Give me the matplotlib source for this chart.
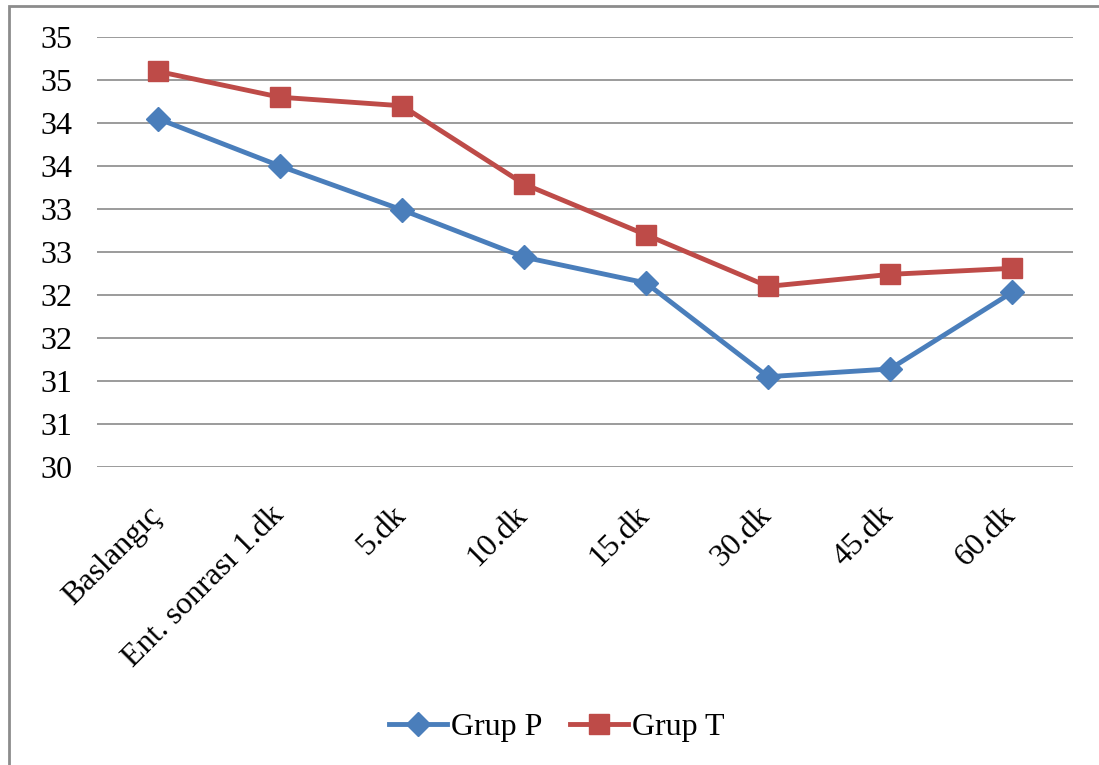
import matplotlib.pyplot as plt
from matplotlib.patches import Rectangle
from matplotlib.transforms import ScaledTranslation

plt.rcParams['font.family'] = ['Liberation Serif', 'DejaVu Serif']

categories = ['Baslangıç', 'Ent. sonrası 1.dk', '5.dk', '10.dk', '15.dk', '30.dk', '45.dk', '60.dk']
grup_p = [34.05, 33.5, 32.99, 32.44, 32.14, 31.05, 31.14, 32.03]
grup_t = [34.6, 34.3, 34.2, 33.29, 32.7, 32.1, 32.24, 32.31]
yticks = [30, 30.5, 31, 31.5, 32, 32.5, 33, 33.5, 34, 34.5, 35]
ytick_labels = ['30', '31', '31', '32', '32', '33', '33', '34', '34', '35', '35']

fig = plt.figure(figsize=(10.99, 7.65), dpi=100)
fig.patches.append(Rectangle((9 / 1099, -0.01), 1.02, 1 - 6 / 765 + 0.01,
                             transform=fig.transFigure, fill=False,
                             edgecolor='#8c8c8c', linewidth=2))
ax = fig.add_axes([97 / 1099, 1 - 467 / 765, 976 / 1099, 430 / 765])

x = range(len(categories))
ax.plot(x, grup_p, color='#4A7EBB', lw=3.5, marker='D', markersize=12, label='Grup P')
ax.plot(x, grup_t, color='#BE4B48', lw=3.5, marker='s', markersize=14, label='Grup T')

ax.set_xlim(-0.5, len(categories) - 0.5)
ax.set_ylim(30, 35)
ax.set_yticks(yticks)
ax.set_yticklabels(ytick_labels, fontsize=23)
ax.set_xticks(list(x))
ax.set_xticklabels(categories, fontsize=23, rotation=45, ha='right', rotation_mode='anchor')
ax.tick_params(length=0, pad=18, axis='y')
ax.tick_params(length=0, pad=10, axis='x')
# shift the slanted labels a little left and down, like the original
shift = ScaledTranslation(-0.11, -0.2, fig.dpi_scale_trans)
for lbl in ax.get_xticklabels():
    lbl.set_transform(lbl.get_transform() + shift)
ax.grid(True, axis='y', color='#8a8a8a', lw=1.2)
ax.set_axisbelow(True)
for s in ax.spines.values():
    s.set_visible(False)

fig.legend(loc='center', bbox_to_anchor=(557 / 1099, 1 - 727 / 765), ncol=2, frameon=False,
           fontsize=23, handlelength=1.8, handletextpad=0.15, columnspacing=0.85)

fig.savefig('out.png', dpi=100)
